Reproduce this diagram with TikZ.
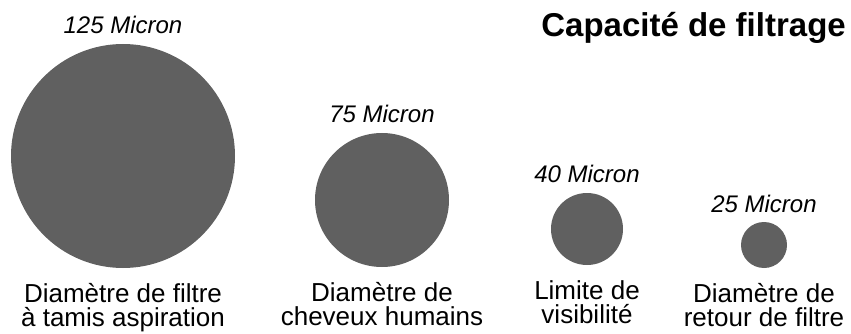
\documentclass[tikz,border=0pt]{standalone}
\usepackage{fontspec}
\setmainfont{Liberation Sans}
\usepackage{xcolor}
\usetikzlibrary{positioning}
\definecolor{dotgray}{RGB}{96,96,96}

\begin{document}
\begin{tikzpicture}[x=1pt,y=-1pt,
	dot/.style={circle, fill=dotgray, inner sep=0pt},
	micron/.style={font=\fontsize{24}{24}\selectfont\itshape, inner sep=0pt},
	caption/.style={font=\fontsize{26}{24}\selectfont, align=center, inner sep=0pt}]
	\useasboundingbox (0,0) rectangle (851,334);
	% draw title
	\node[font=\fontsize{33}{33}\selectfont\bfseries, inner sep=0pt, anchor=base east] (title) at (846,37) {Capacité de filtrage};
	% draw particles
	\node[dot, minimum size=224pt] (d125) at (123,156) {};
	\node[dot, minimum size=134pt] (d75) at (382,200) {};
	\node[dot, minimum size=72pt] (d40) at (587,229) {};
	\node[dot, minimum size=46pt] (d25) at (764,245) {};
	% sizes
	\node[micron, above=10pt of d125, anchor=base] (m125) {125 Micron};
	\node[micron, above=10pt of d75, anchor=base] (m75) {75 Micron};
	\node[micron, above=10pt of d40, anchor=base] (m40) {40 Micron};
	\node[micron, above=9pt of d25, anchor=base] (m25) {25 Micron};
	% captions
	\node[caption, below=15pt of d125] (c125) {Diamètre de filtre\\à tamis aspiration};
	\node[caption, below=15pt of d75] (c75) {Diamètre de\\cheveux humains};
	\node[caption, below=15pt of d40] (c40) {Limite de\\visibilité};
	\node[caption, below=15pt of d25] (c25) {Diamètre de\\retour de filtre};
\end{tikzpicture}
\end{document}
